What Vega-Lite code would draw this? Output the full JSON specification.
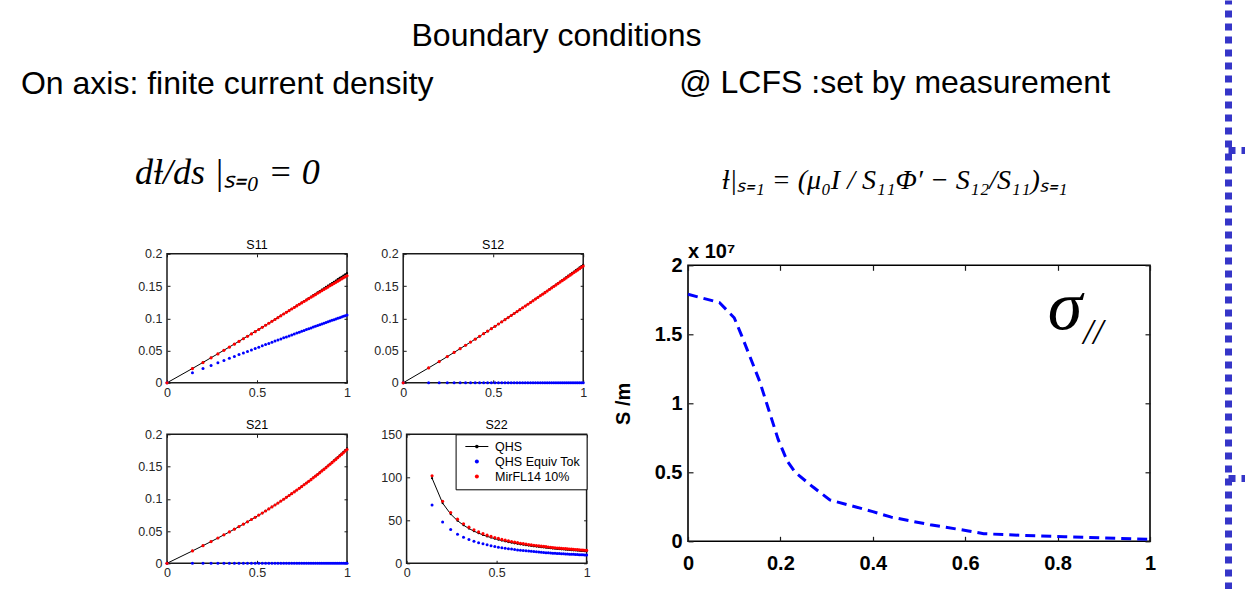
{
  "$schema": "https://vega.github.io/schema/vega-lite/v6.json",
  "background": "white",
  "padding": {"left": 20, "top": 0, "right": 0, "bottom": 0},
  "spacing": 71,
  "config": {
    "font": "Liberation Sans",
    "view": {"stroke": "#1a1a1a", "strokeWidth": 1.5},
    "axis": {
      "domain": false, "grid": false, "tickSize": -3, "tickColor": "#1a1a1a", "tickWidth": 1,
      "labelFont": "Liberation Sans", "labelFontSize": 12.5, "labelColor": "#262626",
      "labelFlush": false, "titleFont": "Liberation Sans"
    },
    "title": {"font": "Liberation Sans", "fontWeight": "normal", "color": "black", "subtitleColor": "black"}
  },
  "datasets": {
    "rho": [
      {"x":0,"q11":0,"t11":0,"m11":0,"q12":0,"t12":0,"m12":0,"q21":0,"t21":0,"m21":0},
      {"x":0.1414,"q11":0.0222,"t11":0.0157,"m11":0.0220,"q12":0.0231,"t12":0,"m12":0.0231,"q21":0.0192,"t21":0,"m21":0.0192,"q22":99.0,"t22":67.9,"m22":101.8},
      {"x":0.2,"q11":0.0316,"t11":0.0221,"m11":0.0314,"q12":0.0329,"t12":0,"m12":0.0329,"q21":0.0274,"t21":0,"m21":0.0274,"q22":70.0,"t22":48.0,"m22":72.2},
      {"x":0.2449,"q11":0.0389,"t11":0.0270,"m11":0.0387,"q12":0.0406,"t12":0,"m12":0.0406,"q21":0.0337,"t21":0,"m21":0.0337,"q22":57.2,"t22":39.2,"m22":59.1},
      {"x":0.2828,"q11":0.0450,"t11":0.0311,"m11":0.0448,"q12":0.0471,"t12":0,"m12":0.0471,"q21":0.0392,"t21":0,"m21":0.0392,"q22":49.5,"t22":33.9,"m22":51.3},
      {"x":0.3162,"q11":0.0505,"t11":0.0347,"m11":0.0503,"q12":0.0529,"t12":0,"m12":0.0529,"q21":0.0441,"t21":0,"m21":0.0441,"q22":44.3,"t22":30.4,"m22":46.0},
      {"x":0.3464,"q11":0.0555,"t11":0.0380,"m11":0.0553,"q12":0.0582,"t12":0,"m12":0.0582,"q21":0.0486,"t21":0,"m21":0.0486,"q22":40.4,"t22":27.7,"m22":42.0},
      {"x":0.3742,"q11":0.0601,"t11":0.0409,"m11":0.0599,"q12":0.0631,"t12":0,"m12":0.0631,"q21":0.0529,"t21":0,"m21":0.0529,"q22":37.4,"t22":25.7,"m22":38.9},
      {"x":0.4,"q11":0.0644,"t11":0.0437,"m11":0.0642,"q12":0.0677,"t12":0,"m12":0.0677,"q21":0.0569,"t21":0,"m21":0.0569,"q22":35.0,"t22":24.0,"m22":36.5},
      {"x":0.4243,"q11":0.0685,"t11":0.0463,"m11":0.0683,"q12":0.0720,"t12":0,"m12":0.0720,"q21":0.0607,"t21":0,"m21":0.0607,"q22":33.0,"t22":22.6,"m22":34.5},
      {"x":0.4472,"q11":0.0723,"t11":0.0487,"m11":0.0721,"q12":0.0762,"t12":0,"m12":0.0762,"q21":0.0643,"t21":0,"m21":0.0643,"q22":31.3,"t22":21.5,"m22":32.7},
      {"x":0.4690,"q11":0.0760,"t11":0.0510,"m11":0.0758,"q12":0.0801,"t12":0,"m12":0.0801,"q21":0.0679,"t21":0,"m21":0.0679,"q22":29.9,"t22":20.5,"m22":31.3},
      {"x":0.4899,"q11":0.0795,"t11":0.0532,"m11":0.0793,"q12":0.0839,"t12":0,"m12":0.0839,"q21":0.0713,"t21":0,"m21":0.0713,"q22":28.6,"t22":19.6,"m22":30.0},
      {"x":0.5099,"q11":0.0829,"t11":0.0553,"m11":0.0827,"q12":0.0876,"t12":0,"m12":0.0876,"q21":0.0747,"t21":0,"m21":0.0747,"q22":27.5,"t22":18.8,"m22":28.9},
      {"x":0.5292,"q11":0.0862,"t11":0.0573,"m11":0.0860,"q12":0.0911,"t12":0,"m12":0.0911,"q21":0.0779,"t21":0,"m21":0.0779,"q22":26.5,"t22":18.1,"m22":27.8},
      {"x":0.5477,"q11":0.0894,"t11":0.0592,"m11":0.0892,"q12":0.0945,"t12":0,"m12":0.0945,"q21":0.0811,"t21":0,"m21":0.0811,"q22":25.6,"t22":17.5,"m22":26.9},
      {"x":0.5657,"q11":0.0925,"t11":0.0611,"m11":0.0923,"q12":0.0979,"t12":0,"m12":0.0979,"q21":0.0843,"t21":0,"m21":0.0843,"q22":24.7,"t22":17.0,"m22":26.0},
      {"x":0.5831,"q11":0.0955,"t11":0.0629,"m11":0.0953,"q12":0.1011,"t12":0,"m12":0.1011,"q21":0.0874,"t21":0,"m21":0.0874,"q22":24.0,"t22":16.5,"m22":25.3},
      {"x":0.6,"q11":0.0984,"t11":0.0647,"m11":0.0982,"q12":0.1043,"t12":0,"m12":0.1043,"q21":0.0904,"t21":0,"m21":0.0904,"q22":23.3,"t22":16.0,"m22":24.6},
      {"x":0.6164,"q11":0.1012,"t11":0.0664,"m11":0.1010,"q12":0.1074,"t12":0,"m12":0.1074,"q21":0.0934,"t21":0,"m21":0.0934,"q22":22.7,"t22":15.6,"m22":24.0},
      {"x":0.6325,"q11":0.1040,"t11":0.0680,"m11":0.1038,"q12":0.1104,"t12":0,"m12":0.1104,"q21":0.0964,"t21":0,"m21":0.0964,"q22":22.1,"t22":15.2,"m22":23.3},
      {"x":0.6481,"q11":0.1068,"t11":0.0697,"m11":0.1067,"q12":0.1134,"t12":0,"m12":0.1134,"q21":0.0993,"t21":0,"m21":0.0993,"q22":21.6,"t22":14.8,"m22":22.8},
      {"x":0.6633,"q11":0.1094,"t11":0.0712,"m11":0.1093,"q12":0.1163,"t12":0,"m12":0.1162,"q21":0.1023,"t21":0,"m21":0.1023,"q22":21.1,"t22":14.5,"m22":22.3},
      {"x":0.6782,"q11":0.1120,"t11":0.0727,"m11":0.1118,"q12":0.1191,"t12":0,"m12":0.1190,"q21":0.1051,"t21":0,"m21":0.1051,"q22":20.6,"t22":14.2,"m22":21.8},
      {"x":0.6928,"q11":0.1146,"t11":0.0742,"m11":0.1144,"q12":0.1219,"t12":0,"m12":0.1218,"q21":0.1080,"t21":0,"m21":0.1080,"q22":20.2,"t22":13.9,"m22":21.4},
      {"x":0.7071,"q11":0.1171,"t11":0.0757,"m11":0.1168,"q12":0.1246,"t12":0,"m12":0.1245,"q21":0.1108,"t21":0,"m21":0.1107,"q22":19.8,"t22":13.6,"m22":21.0},
      {"x":0.7211,"q11":0.1196,"t11":0.0771,"m11":0.1192,"q12":0.1273,"t12":0,"m12":0.1271,"q21":0.1136,"t21":0,"m21":0.1135,"q22":19.4,"t22":13.3,"m22":20.6},
      {"x":0.7348,"q11":0.1220,"t11":0.0785,"m11":0.1216,"q12":0.1300,"t12":0,"m12":0.1298,"q21":0.1164,"t21":0,"m21":0.1162,"q22":19.1,"t22":13.1,"m22":20.3},
      {"x":0.7483,"q11":0.1244,"t11":0.0799,"m11":0.1239,"q12":0.1326,"t12":0,"m12":0.1323,"q21":0.1192,"t21":0,"m21":0.1190,"q22":18.7,"t22":12.8,"m22":19.9},
      {"x":0.7616,"q11":0.1267,"t11":0.0812,"m11":0.1261,"q12":0.1352,"t12":0,"m12":0.1349,"q21":0.1220,"t21":0,"m21":0.1218,"q22":18.4,"t22":12.6,"m22":19.6},
      {"x":0.7746,"q11":0.1291,"t11":0.0826,"m11":0.1283,"q12":0.1377,"t12":0,"m12":0.1373,"q21":0.1247,"t21":0,"m21":0.1244,"q22":18.1,"t22":12.4,"m22":19.3},
      {"x":0.7874,"q11":0.1313,"t11":0.0839,"m11":0.1304,"q12":0.1402,"t12":0,"m12":0.1398,"q21":0.1274,"t21":0,"m21":0.1271,"q22":17.8,"t22":12.2,"m22":19.0},
      {"x":0.8,"q11":0.1336,"t11":0.0851,"m11":0.1326,"q12":0.1427,"t12":0,"m12":0.1422,"q21":0.1301,"t21":0,"m21":0.1297,"q22":17.5,"t22":12.0,"m22":18.7},
      {"x":0.8124,"q11":0.1358,"t11":0.0864,"m11":0.1347,"q12":0.1452,"t12":0,"m12":0.1446,"q21":0.1329,"t21":0,"m21":0.1325,"q22":17.2,"t22":11.8,"m22":18.3},
      {"x":0.8246,"q11":0.1380,"t11":0.0876,"m11":0.1367,"q12":0.1476,"t12":0,"m12":0.1470,"q21":0.1356,"t21":0,"m21":0.1351,"q22":17.0,"t22":11.6,"m22":18.1},
      {"x":0.8367,"q11":0.1402,"t11":0.0888,"m11":0.1388,"q12":0.1500,"t12":0,"m12":0.1493,"q21":0.1382,"t21":0,"m21":0.1377,"q22":16.7,"t22":11.5,"m22":17.8},
      {"x":0.8485,"q11":0.1423,"t11":0.0900,"m11":0.1408,"q12":0.1523,"t12":0,"m12":0.1515,"q21":0.1409,"t21":0,"m21":0.1403,"q22":16.5,"t22":11.3,"m22":17.6},
      {"x":0.8602,"q11":0.1444,"t11":0.0912,"m11":0.1427,"q12":0.1547,"t12":0,"m12":0.1538,"q21":0.1436,"t21":0,"m21":0.1430,"q22":16.3,"t22":11.2,"m22":17.4},
      {"x":0.8718,"q11":0.1465,"t11":0.0923,"m11":0.1447,"q12":0.1570,"t12":0,"m12":0.1561,"q21":0.1463,"t21":0,"m21":0.1456,"q22":16.1,"t22":11.0,"m22":17.2},
      {"x":0.8832,"q11":0.1486,"t11":0.0935,"m11":0.1466,"q12":0.1593,"t12":0,"m12":0.1583,"q21":0.1489,"t21":0,"m21":0.1482,"q22":15.9,"t22":10.9,"m22":17.0},
      {"x":0.8944,"q11":0.1506,"t11":0.0946,"m11":0.1484,"q12":0.1615,"t12":0,"m12":0.1604,"q21":0.1516,"t21":0,"m21":0.1508,"q22":15.7,"t22":10.7,"m22":16.8},
      {"x":0.9055,"q11":0.1527,"t11":0.0957,"m11":0.1504,"q12":0.1637,"t12":0,"m12":0.1625,"q21":0.1543,"t21":0,"m21":0.1534,"q22":15.5,"t22":10.6,"m22":16.6},
      {"x":0.9165,"q11":0.1547,"t11":0.0968,"m11":0.1522,"q12":0.1660,"t12":0,"m12":0.1647,"q21":0.1569,"t21":0,"m21":0.1560,"q22":15.3,"t22":10.5,"m22":16.4},
      {"x":0.9274,"q11":0.1566,"t11":0.0978,"m11":0.1539,"q12":0.1682,"t12":0,"m12":0.1669,"q21":0.1596,"t21":0,"m21":0.1586,"q22":15.1,"t22":10.4,"m22":16.2},
      {"x":0.9381,"q11":0.1586,"t11":0.0989,"m11":0.1557,"q12":0.1703,"t12":0,"m12":0.1689,"q21":0.1622,"t21":0,"m21":0.1611,"q22":14.9,"t22":10.2,"m22":16.0},
      {"x":0.9487,"q11":0.1606,"t11":0.0999,"m11":0.1576,"q12":0.1725,"t12":0,"m12":0.1710,"q21":0.1648,"t21":0,"m21":0.1637,"q22":14.8,"t22":10.1,"m22":15.9},
      {"x":0.9592,"q11":0.1625,"t11":0.1010,"m11":0.1593,"q12":0.1746,"t12":0,"m12":0.1730,"q21":0.1675,"t21":0,"m21":0.1663,"q22":14.6,"t22":10.0,"m22":15.7},
      {"x":0.9695,"q11":0.1644,"t11":0.1020,"m11":0.1610,"q12":0.1767,"t12":0,"m12":0.1750,"q21":0.1701,"t21":0,"m21":0.1688,"q22":14.4,"t22":9.9,"m22":15.5},
      {"x":0.9798,"q11":0.1663,"t11":0.1030,"m11":0.1627,"q12":0.1788,"t12":0,"m12":0.1770,"q21":0.1727,"t21":0,"m21":0.1713,"q22":14.3,"t22":9.8,"m22":15.4},
      {"x":0.9899,"q11":0.1681,"t11":0.1040,"m11":0.1643,"q12":0.1809,"t12":0,"m12":0.1790,"q21":0.1754,"t21":0,"m21":0.1740,"q22":14.1,"t22":9.7,"m22":15.2},
      {"x":1,"q11":0.1700,"t11":0.1050,"m11":0.1660,"q12":0.1830,"t12":0,"m12":0.1810,"q21":0.1780,"t21":0,"m21":0.1765,"q22":14.0,"t22":9.6,"m22":15.1}
    ],
    "sigma": [
      {"rho":0,"sigma":17900000},
      {"rho":0.068,"sigma":17300000},
      {"rho":0.1,"sigma":16200000},
      {"rho":0.115,"sigma":15000000},
      {"rho":0.135,"sigma":13300000},
      {"rho":0.155,"sigma":11600000},
      {"rho":0.175,"sigma":9500000},
      {"rho":0.195,"sigma":7400000},
      {"rho":0.215,"sigma":5800000},
      {"rho":0.232,"sigma":5000000},
      {"rho":0.27,"sigma":3950000},
      {"rho":0.307,"sigma":3000000},
      {"rho":0.4,"sigma":2150000},
      {"rho":0.44,"sigma":1750000},
      {"rho":0.524,"sigma":1200000},
      {"rho":0.607,"sigma":750000},
      {"rho":0.64,"sigma":550000},
      {"rho":0.73,"sigma":420000},
      {"rho":0.815,"sigma":330000},
      {"rho":1.0,"sigma":140000}
    ]
  },
  "resolve": {"scale": {"color": "independent", "shape": "independent"}, "legend": {"color": "independent", "shape": "independent"}},
  "hconcat": [
    {
      "spacing": 15.3,
      "resolve": {"scale": {"color": "independent", "shape": "independent"}, "legend": {"color": "independent", "shape": "independent"}},
      "vconcat": [
        {
          "width": 779, "height": 1,
          "view": {"stroke": null},
          "data": {"values": []},
          "mark": "point",
          "title": {"text": "Boundary conditions", "orient": "bottom", "anchor": "middle", "frame": "group", "baseline": "top", "fontSize": 32, "offset": 19.7}
        },
        {
          "spacing": 21,
          "resolve": {"scale": {"color": "independent", "shape": "independent"}, "legend": {"color": "independent", "shape": "independent"}},
          "hconcat": [
            {
              "title": {
                "text": "On axis: finite current density", "fontSize": 32, "anchor": "middle", "frame": "bounds", "dx": -136.6,
                "subtitle": "dƚ/ds |ₛ₌₀ = 0", "subtitleFont": "Liberation Serif", "subtitleFontStyle": "italic",
                "subtitleFontSize": 36, "subtitlePadding": 54.4, "offset": 9.6
              },
              "spacing": 18.5,
              "resolve": {"scale": {"color": "independent", "shape": "independent"}, "legend": {"color": "independent", "shape": "independent"}},
              "vconcat": [
                {"width": 1, "height": 17.1, "view": {"stroke": null}, "data": {"values": []}, "mark": "point"},
                {
                  "spacing": 20.2,
                  "hconcat": [
                    {
                      "width": 180, "height": 129,
                      "data": {"name": "rho"},
                      "title": {"text": "S11", "fontSize": 12.5, "frame": "group", "offset": -3.35},
                      "layer": [
                        {"mark": {"type": "line", "color": "black", "strokeWidth": 1},
                         "encoding": {
                           "x": {"field": "x", "type": "quantitative", "scale": {"domain": [0, 1]}, "axis": {"orient": "top", "labels": false, "values": [0, 0.5, 1], "title": null}},
                           "y": {"field": "q11", "type": "quantitative", "scale": {"domain": [0, 0.2], "nice": false}, "axis": {"orient": "right", "labels": false, "values": [0, 0.05, 0.1, 0.15, 0.2], "title": null}}}},
                        {"mark": {"type": "point", "filled": true, "color": "black", "size": 5, "opacity": 1},
                         "encoding": {
                           "x": {"field": "x", "type": "quantitative", "axis": {"orient": "bottom", "values": [0, 0.5, 1], "format": "~g", "title": null, "labelPadding": 6.6}},
                           "y": {"field": "q11", "type": "quantitative", "axis": {"orient": "left", "values": [0, 0.05, 0.1, 0.15, 0.2], "format": "~g", "title": null, "labelPadding": 8}}}},
                        {"mark": {"type": "point", "filled": true, "color": "#0000ff", "size": 9, "opacity": 1},
                         "encoding": {"x": {"field": "x", "type": "quantitative", "axis": null}, "y": {"field": "t11", "type": "quantitative", "axis": null}}},
                        {"mark": {"type": "point", "filled": true, "color": "#ff0000", "size": 10, "opacity": 1},
                         "encoding": {"x": {"field": "x", "type": "quantitative", "axis": null}, "y": {"field": "m11", "type": "quantitative", "axis": null}}}
                      ],
                      "resolve": {"axis": {"x": "independent", "y": "independent"}}
                    },
                    {
                      "width": 180, "height": 129,
                      "data": {"name": "rho"},
                      "title": {"text": "S12", "fontSize": 12.5, "frame": "group", "offset": -3.35},
                      "layer": [
                        {"mark": {"type": "line", "color": "black", "strokeWidth": 1},
                         "encoding": {
                           "x": {"field": "x", "type": "quantitative", "scale": {"domain": [0, 1]}, "axis": {"orient": "top", "labels": false, "values": [0, 0.5, 1], "title": null}},
                           "y": {"field": "q12", "type": "quantitative", "scale": {"domain": [0, 0.2], "nice": false}, "axis": {"orient": "right", "labels": false, "values": [0, 0.05, 0.1, 0.15, 0.2], "title": null}}}},
                        {"mark": {"type": "point", "filled": true, "color": "black", "size": 5, "opacity": 1},
                         "encoding": {
                           "x": {"field": "x", "type": "quantitative", "axis": {"orient": "bottom", "values": [0, 0.5, 1], "format": "~g", "title": null, "labelPadding": 6.6}},
                           "y": {"field": "q12", "type": "quantitative", "axis": {"orient": "left", "values": [0, 0.05, 0.1, 0.15, 0.2], "format": "~g", "title": null, "labelPadding": 8}}}},
                        {"mark": {"type": "point", "filled": true, "color": "#0000ff", "size": 9, "opacity": 1},
                         "encoding": {"x": {"field": "x", "type": "quantitative", "axis": null}, "y": {"field": "t12", "type": "quantitative", "axis": null}}},
                        {"mark": {"type": "point", "filled": true, "color": "#ff0000", "size": 10, "opacity": 1},
                         "encoding": {"x": {"field": "x", "type": "quantitative", "axis": null}, "y": {"field": "m12", "type": "quantitative", "axis": null}}}
                      ],
                      "resolve": {"axis": {"x": "independent", "y": "independent"}}
                    }
                  ]
                },
                {
                  "spacing": 27.6,
                  "resolve": {"scale": {"color": "independent", "shape": "independent"}, "legend": {"color": "independent", "shape": "independent"}},
                  "hconcat": [
                    {
                      "width": 180, "height": 129,
                      "data": {"name": "rho"},
                      "title": {"text": "S21", "fontSize": 12.5, "frame": "group", "offset": -3.35},
                      "layer": [
                        {"mark": {"type": "line", "color": "black", "strokeWidth": 1},
                         "encoding": {
                           "x": {"field": "x", "type": "quantitative", "scale": {"domain": [0, 1]}, "axis": {"orient": "top", "labels": false, "values": [0, 0.5, 1], "title": null}},
                           "y": {"field": "q21", "type": "quantitative", "scale": {"domain": [0, 0.2], "nice": false}, "axis": {"orient": "right", "labels": false, "values": [0, 0.05, 0.1, 0.15, 0.2], "title": null}}}},
                        {"mark": {"type": "point", "filled": true, "color": "black", "size": 5, "opacity": 1},
                         "encoding": {
                           "x": {"field": "x", "type": "quantitative", "axis": {"orient": "bottom", "values": [0, 0.5, 1], "format": "~g", "title": null, "labelPadding": 6.6}},
                           "y": {"field": "q21", "type": "quantitative", "axis": {"orient": "left", "values": [0, 0.05, 0.1, 0.15, 0.2], "format": "~g", "title": null, "labelPadding": 8}}}},
                        {"mark": {"type": "point", "filled": true, "color": "#0000ff", "size": 9, "opacity": 1},
                         "encoding": {"x": {"field": "x", "type": "quantitative", "axis": null}, "y": {"field": "t21", "type": "quantitative", "axis": null}}},
                        {"mark": {"type": "point", "filled": true, "color": "#ff0000", "size": 10, "opacity": 1},
                         "encoding": {"x": {"field": "x", "type": "quantitative", "axis": null}, "y": {"field": "m21", "type": "quantitative", "axis": null}}}
                      ],
                      "resolve": {"axis": {"x": "independent", "y": "independent"}}
                    },
                    {
                      "width": 180, "height": 129,
                      "data": {"name": "rho"},
                      "title": {"text": "S22", "fontSize": 12.5, "frame": "group", "offset": -3.35},
                      "layer": [
                        {"mark": {"type": "line", "color": "black", "strokeWidth": 1},
                         "encoding": {
                           "x": {"field": "x", "type": "quantitative", "scale": {"domain": [0, 1]}, "axis": {"orient": "top", "labels": false, "values": [0, 0.5, 1], "title": null}},
                           "y": {"field": "q22", "type": "quantitative", "scale": {"domain": [0, 150], "nice": false}, "axis": {"orient": "right", "labels": false, "values": [0, 50, 100, 150], "title": null}}}},
                        {"mark": {"type": "point", "filled": true, "color": "black", "size": 5, "opacity": 1},
                         "encoding": {
                           "x": {"field": "x", "type": "quantitative", "axis": {"orient": "bottom", "values": [0, 0.5, 1], "format": "~g", "title": null, "labelPadding": 6.6}},
                           "y": {"field": "q22", "type": "quantitative", "axis": {"orient": "left", "values": [0, 50, 100, 150], "format": "d", "title": null, "labelPadding": 8}}}},
                        {"mark": {"type": "point", "filled": true, "color": "#0000ff", "size": 9, "opacity": 1},
                         "encoding": {"x": {"field": "x", "type": "quantitative", "axis": null}, "y": {"field": "t22", "type": "quantitative", "axis": null}}},
                        {"mark": {"type": "point", "filled": true, "color": "#ff0000", "size": 10, "opacity": 1},
                         "encoding": {"x": {"field": "x", "type": "quantitative", "axis": null}, "y": {"field": "m22", "type": "quantitative", "axis": null}}},
                        {"data": {"values": []},
                         "mark": {"type": "point", "filled": true, "opacity": 1},
                         "encoding": {
                           "color": {"field": "series", "type": "nominal",
                             "scale": {"domain": ["QHS", "QHS Equiv Tok", "MirFL14 10%"], "range": ["#000000", "#0000ff", "#ff0000"]},
                             "legend": {"title": null, "orient": "top-right", "offset": 0, "padding": 6, "strokeColor": "black", "fillColor": "white",
                               "labelFont": "Liberation Sans", "labelFontSize": 12.5, "labelColor": "black", "symbolSize": 16, "symbolStrokeWidth": 0,
                               "labelOffset": 12, "rowPadding": 2, "symbolOffset": 9}},
                           "shape": {"field": "series", "type": "nominal",
                             "scale": {"domain": ["QHS", "QHS Equiv Tok", "MirFL14 10%"],
                               "range": ["M-5.75,-0.25H5.75V0.25H-5.75Z M0.9,0A0.9,0.9 0 1 1 -0.9,0A0.9,0.9 0 1 1 0.9,0Z", "circle", "circle"]},
                             "legend": {"title": null, "orient": "top-right", "offset": 0, "padding": 6, "strokeColor": "black", "fillColor": "white",
                               "labelFont": "Liberation Sans", "labelFontSize": 12.5, "labelColor": "black", "symbolSize": 16, "symbolStrokeWidth": 0,
                               "labelOffset": 12, "rowPadding": 2, "symbolOffset": 9}}}}
                      ],
                      "resolve": {"axis": {"x": "independent", "y": "independent"}}
                    }
                  ]
                }
              ]
            },
            {
              "title": {
                "text": "@ LCFS :set by measurement", "fontSize": 32, "anchor": "middle", "frame": "bounds", "dx": 10,
                "subtitle": "ƚ|ₛ₌₁ = (μ₀I / S₁₁Φ′ − S₁₂/S₁₁)ₛ₌₁", "subtitleFont": "Liberation Serif", "subtitleFontStyle": "italic",
                "subtitleFontSize": 28, "subtitlePadding": 66.3, "offset": 5.7
              },
              "spacing": 0,
              "vconcat": [
                {"width": 1, "height": 38.2, "view": {"stroke": null}, "data": {"values": []}, "mark": "point"},
                {
                  "width": 462, "height": 276,
                  "data": {"name": "sigma"},
                  "view": {"stroke": "black", "strokeWidth": 1.6},
                  "title": {"text": "x 10⁷", "anchor": "start", "frame": "group", "fontSize": 20, "fontWeight": "bold", "offset": -6.2},
                  "layer": [
                    {"mark": {"type": "line", "color": "#0000ff", "strokeWidth": 3, "strokeDash": [10, 6]},
                     "encoding": {
                       "x": {"field": "rho", "type": "quantitative", "scale": {"domain": [0, 1]},
                         "axis": {"orient": "bottom", "values": [0, 0.2, 0.4, 0.6, 0.8, 1], "format": "~g", "title": null,
                           "labelFontSize": 20, "labelFontWeight": "bold", "labelColor": "black", "tickSize": -5, "tickWidth": 1.2, "labelPadding": 17}},
                       "y": {"field": "sigma", "type": "quantitative", "scale": {"domain": [0, 20000000], "nice": false},
                         "axis": {"orient": "left", "values": [0, 5000000, 10000000, 15000000, 20000000], "labelExpr": "format(datum.value / 1e7, '~g')",
                           "labelFontSize": 20, "labelFontWeight": "bold", "labelColor": "black", "tickSize": -5, "tickWidth": 1.2, "labelPadding": 11,
                           "title": "S /m", "titleFontSize": 20, "titleFontWeight": "bold", "titleColor": "black", "titlePadding": 21}}}},
                    {"mark": {"type": "line", "opacity": 0},
                     "encoding": {
                       "x": {"field": "rho", "type": "quantitative", "axis": {"orient": "top", "labels": false, "values": [0, 0.2, 0.4, 0.6, 0.8, 1], "tickSize": -5, "tickWidth": 1.2, "title": null}},
                       "y": {"field": "sigma", "type": "quantitative", "axis": {"orient": "right", "labels": false, "values": [0, 5000000, 10000000, 15000000, 20000000], "tickSize": -5, "tickWidth": 1.2, "title": null}}}},
                    {"data": {"values": [{}]},
                     "mark": {"type": "text", "text": "σ", "font": "Liberation Serif", "fontStyle": "italic", "fontSize": 70, "align": "center", "baseline": "middle", "color": "black"},
                     "encoding": {"x": {"datum": 0.816, "type": "quantitative", "axis": null}, "y": {"datum": 16880000, "type": "quantitative", "axis": null}}},
                    {"data": {"values": [{}]},
                     "mark": {"type": "text", "text": "//", "font": "Liberation Serif", "fontStyle": "italic", "fontSize": 36, "align": "center", "baseline": "middle", "color": "black"},
                     "encoding": {"x": {"datum": 0.877, "type": "quantitative", "axis": null}, "y": {"datum": 15100000, "type": "quantitative", "axis": null}}}
                  ],
                  "resolve": {"axis": {"x": "independent", "y": "independent"}}
                }
              ]
            }
          ]
        }
      ]
    },
    {
      "width": 19, "height": 589,
      "view": {"stroke": null},
      "data": {"values": []},
      "mark": {"type": "point", "opacity": 0},
      "encoding": {
        "y": {"field": "v", "type": "quantitative", "scale": {"domain": [0, 1]},
          "axis": {"orient": "left", "title": null, "labels": false, "ticks": false,
            "domain": true, "domainColor": "#3535c8", "domainWidth": 7, "domainDash": [7, 6],
            "grid": true, "gridColor": "#3535c8", "gridWidth": 7, "gridDash": [7, 6], "gridOpacity": 1,
            "values": [0.745, 0.1885]}}
      }
    }
  ]
}
